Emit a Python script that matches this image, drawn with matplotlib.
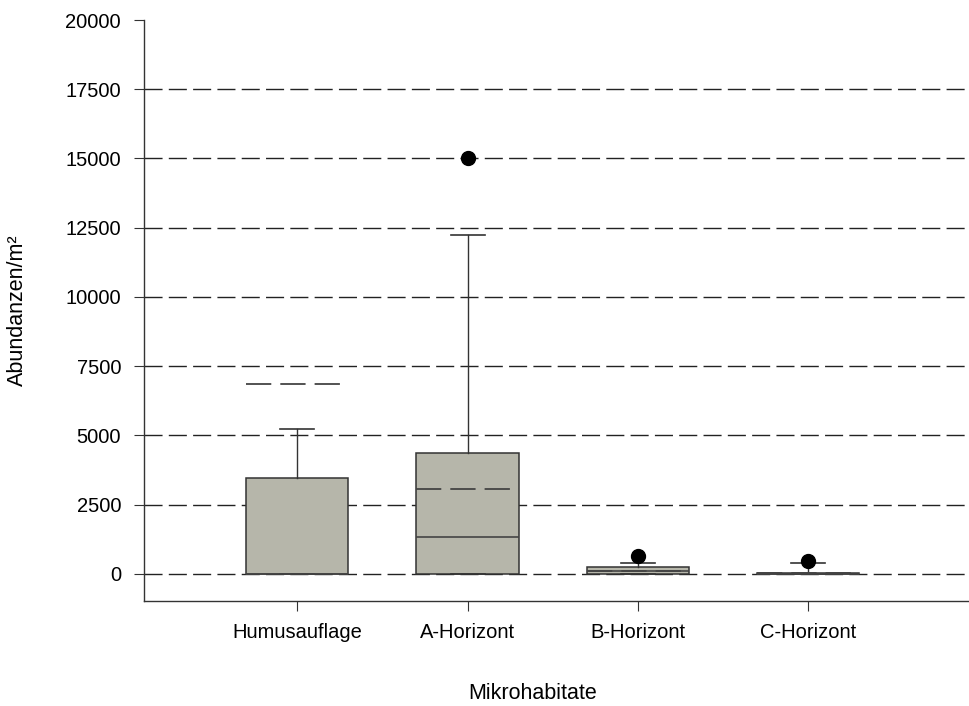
import matplotlib
matplotlib.use("Agg")
import matplotlib.pyplot as plt

plt.rcParams["font.family"] = ["Liberation Sans", "DejaVu Sans"]

categories = ["Humusauflage", "A-Horizont", "B-Horizont", "C-Horizont"]
q1 = [0, 0, 0, 0]
medians = [0, 1330, 110, 0]
q3 = [3480, 4360, 240, 30]
whisker_low = [0, 0, 0, 0]
whisker_high = [5230, 12230, 390, 390]
means = [6870, 3070, 120, 20]
outliers = [[], [15000], [640], [480]]

y_ticks = [0, 2500, 5000, 7500, 10000, 12500, 15000, 17500, 20000]
grid_levels = [0, 2500, 5000, 7500, 10000, 12500, 15000, 17500]

stats = []
for i, name in enumerate(categories):
    stats.append({
        "label": name,
        "q1": q1[i],
        "med": medians[i],
        "q3": q3[i],
        "whislo": whisker_low[i],
        "whishi": whisker_high[i],
        "mean": means[i],
        "fliers": outliers[i],
    })

fig = plt.figure(figsize=(9.7, 7.06), dpi=100)
ax = fig.add_axes([144 / 970, 1 - 601 / 706, 1 - 144 / 970, (601 - 20) / 706])

# dashed reference lines behind the boxes (none at the top tick)
for t in grid_levels:
    ax.axhline(t, color="#222222", lw=1.0, dashes=(13, 4.5), zorder=0)

ax.bxp(
    stats,
    positions=range(1, len(categories) + 1),
    widths=0.6,
    patch_artist=True,
    showmeans=True,
    meanline=True,
    boxprops=dict(facecolor="#b6b6aa", edgecolor="#333333", lw=1.1),
    medianprops=dict(color="#444444", lw=1.2),
    meanprops=dict(color="#444444", lw=1.3, dashes=(14, 5)),
    whiskerprops=dict(color="#333333", lw=1.0),
    capprops=dict(color="#333333", lw=1.2),
    capwidths=0.2,
    flierprops=dict(marker="o", markerfacecolor="black", markeredgecolor="black",
                    markersize=10),
    zorder=2,
)

ax.set_xlim(0.1, 4.95)
ax.set_ylim(-975, 20000)
ax.set_yticks(y_ticks)
ax.set_yticklabels([str(t) for t in y_ticks])
ax.set_xticks(range(1, len(categories) + 1))
ax.set_xticklabels(categories)

for side in ["top", "right"]:
    ax.spines[side].set_visible(False)
for side in ["left", "bottom"]:
    ax.spines[side].set_color("#333333")
    ax.spines[side].set_linewidth(1.0)

ax.tick_params(axis="y", direction="out", length=7.5, pad=9, labelsize=14.5,
               color="#333333")
ax.tick_params(axis="x", direction="out", length=7.5, pad=8, labelsize=14.5,
               color="#333333")

ax.set_ylabel("Abundanzen/m²", fontsize=15.5)
ax.set_xlabel("Mikrohabitate", fontsize=15.5)
ax.yaxis.set_label_coords(-0.141, 0.5)
ax.xaxis.set_label_coords(0.471, -0.141)

fig.savefig("out.png", dpi=100)
